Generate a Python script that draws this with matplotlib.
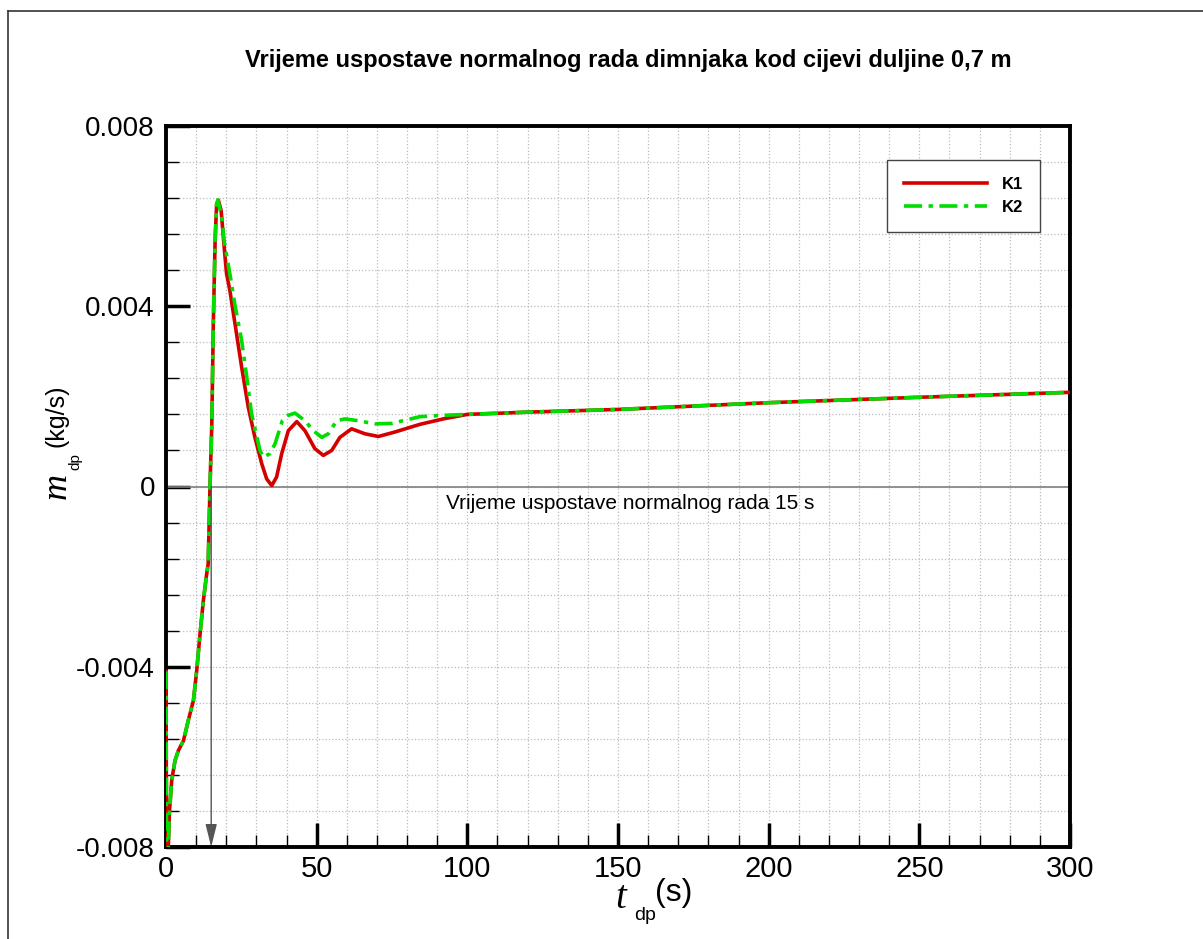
import numpy as np
import matplotlib.pyplot as plt
from matplotlib.lines import Line2D

plt.rcParams['font.family'] = ['Liberation Sans', 'DejaVu Sans']

# podaci ocitani sa slike (t u s, m u kg/s)
t_k1 = [0, 0.25, 0.77, 1.1, 1.9, 3.0, 4.1, 5.8, 7.4, 9.1, 10.2, 11.3, 12.4, 13.5, 14.0, 14.6,
        15.2, 15.7, 16.3, 16.8, 17.4, 18.3, 19.4, 20.1, 21.2, 22.9, 25.1, 27.3, 29.5, 31.8,
        33.4, 35.1, 36.7, 38.4, 40.6, 43.4, 46.1, 49.4, 52.2, 55.0, 57.7, 61.6, 66.0, 70.5,
        76.0, 84.3, 92.0, 100, 120, 150, 200, 250, 300]
m_k1 = [-0.0041, -0.0095, -0.0080, -0.00726, -0.00652, -0.00608, -0.00586, -0.00564, -0.00519,
        -0.00475, -0.00408, -0.00327, -0.00253, -0.00194, -0.00172, 0.0,
        0.00139, 0.00361, 0.00546, 0.00627, 0.00635, 0.00612, 0.00524, 0.00472, 0.00435,
        0.00361, 0.00265, 0.00176, 0.00109, 0.00050, 0.00017, 0.00002, 0.00021, 0.00073,
        0.00124, 0.00144, 0.00124, 0.00084, 0.00069, 0.00080, 0.00109, 0.00128, 0.00117,
        0.00111, 0.00121, 0.00138, 0.0015, 0.0016, 0.00165, 0.00171, 0.00186, 0.00198, 0.00209]

t_k2 = [0, 0.25, 0.77, 1.1, 1.9, 3.0, 4.1, 5.8, 7.4, 9.1, 10.2, 11.3, 12.4, 13.5, 14.0, 14.6,
        15.2, 15.7, 16.3, 16.8, 17.2, 18.5, 19.4, 21.2, 22.9, 25.1, 26.8, 28.4, 31.2, 32.3,
        34.5, 36.2, 38.6, 40.6, 42.8, 46.1, 48.9, 51.7, 53.9, 56.6, 59.4, 63.8, 69.4, 74.9,
        84.3, 92.0, 100, 120, 150, 200, 250, 300]
m_k2 = [-0.0041, -0.0095, -0.0080, -0.00726, -0.00652, -0.00608, -0.00586, -0.00564, -0.00519,
        -0.00475, -0.00408, -0.00327, -0.00253, -0.00194, -0.00172, 0.0,
        0.00135, 0.00361, 0.00546, 0.00627, 0.00636, 0.00598, 0.00540, 0.00472, 0.00402,
        0.00324, 0.00243, 0.00161, 0.00080, 0.00065, 0.00073, 0.00095, 0.00146, 0.00158,
        0.00163, 0.00146, 0.00124, 0.00109, 0.00117, 0.00146, 0.00150, 0.00146, 0.00139,
        0.00140, 0.00155, 0.00158, 0.0016, 0.00165, 0.00171, 0.00186, 0.00198, 0.00209]

t_uspostave = 15

W, H = 1203, 939
fig = plt.figure(figsize=(W / 100, H / 100), dpi=100)
ax = fig.add_axes([166 / W, 1 - 847 / H, (1070 - 166) / W, (847 - 126) / H])

# okvir oko cijele slike
fig.add_artist(Line2D([8 / W, 8 / W], [0, 1 - 11 / H], color='#333333', lw=1.2))
fig.add_artist(Line2D([8 / W, 1], [1 - 11 / H, 1 - 11 / H], color='#333333', lw=1.2))

ax.plot(t_k1, m_k1, color='#d40000', lw=2.6, label='K1', zorder=3)
ax.plot(t_k2, m_k2, color='#00dd00', lw=2.6, ls=(0, (5, 1.8, 1.2, 1.8)), label='K2', zorder=4)

ax.axhline(0, color='#808080', lw=1.2, zorder=2)
ax.annotate('', xy=(t_uspostave, -0.008), xytext=(t_uspostave, 0),
            arrowprops=dict(arrowstyle='-|>,head_length=1.4,head_width=0.35',
                            color='#555555', lw=1.0, shrinkA=0, shrinkB=0), zorder=5)
ax.text(154, -0.00038, 'Vrijeme uspostave normalnog rada 15 s', fontsize=15,
        ha='center', va='center')

ax.set_xlim(0, 300)
ax.set_ylim(-0.008, 0.008)
ax.set_xticks(np.arange(0, 301, 50))
ax.set_xticks(np.arange(0, 301, 10), minor=True)
ax.set_yticks([-0.008, -0.004, 0, 0.004, 0.008])
ax.set_yticklabels(['-0.008', '-0.004', '0', '0.004', '0.008'])
ax.set_yticks(np.linspace(-0.008, 0.008, 21), minor=True)
ax.tick_params(which='major', direction='in', length=17, width=2.5, labelsize=20, pad=8)
ax.tick_params(which='minor', direction='in', length=9, width=1.0)
ax.tick_params(axis='x', which='major', labelsize=21, pad=6)
ax.grid(True, which='both', color='#bbbbbb', ls=':', lw=0.9)
for s in ax.spines.values():
    s.set_linewidth(2.8)

# oznake osi
fig.text(621 / W, 1 - 899 / H, 't', family='Liberation Serif', style='italic', fontsize=28,
         ha='center', va='center')
fig.text(645 / W, 1 - 915 / H, 'dp', fontsize=14, ha='center', va='center')
fig.text(674 / W, 1 - 893 / H, '(s)', fontsize=23, ha='center', va='center')

fig.text(57 / W, 1 - 486 / H, 'm', family='Liberation Serif', style='italic', fontsize=26,
         rotation=90, ha='center', va='center')
fig.text(75 / W, 1 - 462 / H, 'dp', fontsize=11, rotation=90, ha='center', va='center')
fig.text(57 / W, 1 - 416 / H, '(kg/s)', fontsize=18, rotation=90, ha='center', va='center')

fig.text(628 / W, 1 - 61 / H, 'Vrijeme uspostave normalnog rada dimnjaka kod cijevi duljine 0,7 m',
         fontsize=17, fontweight='bold', ha='center', va='center')

leg = ax.legend(loc='upper right', bbox_to_anchor=((1040 - 166) / 904, (847 - 160) / 721),
                borderaxespad=0, fancybox=False, framealpha=1, edgecolor='#444444',
                prop={'weight': 'bold', 'size': 12}, handlelength=5.0, handletextpad=0.9,
                borderpad=1.0, labelspacing=0.5)
leg.get_frame().set_linewidth(1.0)

fig.savefig('out.png', dpi=100)
